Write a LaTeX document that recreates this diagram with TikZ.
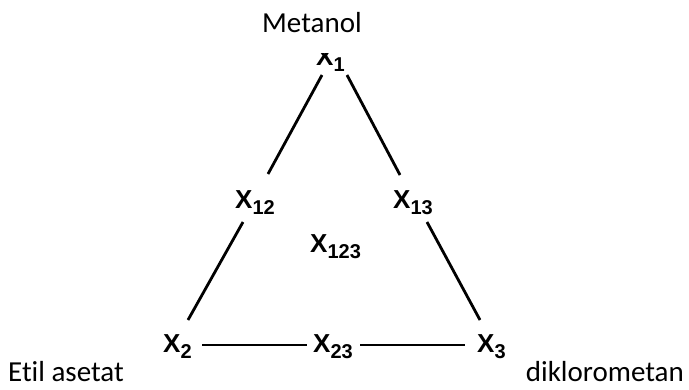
\documentclass[tikz,border=0pt]{standalone}
\usepackage{fontspec}
\setmainfont{Liberation Sans}
\newfontfamily\labfont[RawFeature=-liga]{Carlito}
\newcommand\xlab[1]{X\raisebox{-6pt}{\fontsize{20pt}{20pt}\selectfont #1}}
\tikzset{
  xnode/.style={inner sep=0pt, anchor=base west, font=\bfseries\fontsize{26pt}{26pt}\selectfont},
  compname/.style={inner sep=0pt, font=\labfont\fontsize{29pt}{29pt}\selectfont},
  edge/.style={line width=2.8pt, black}
}
\begin{document}
\begin{tikzpicture}[x=1pt,y=-1pt]
\useasboundingbox (0,0) rectangle (689,389);
\fill[white] (0,0) rectangle (689,389);
% component names
\node[compname, anchor=base west] (met) at (262,32) {Metanol};
\node[compname, anchor=base west] (etil) at (8,381) {Etil asetat};
\node[compname, anchor=base east] (dcm) at (684,381) {diklorometan};
% X labels
\begin{scope}
  \clip (0,53) rectangle (689,100);
  \node[xnode] (x1) at (316,65) {\xlab{1}};
\end{scope}
\node[xnode] (x12) at (235,208) {\xlab{12}};
\node[xnode] (x13) at (393,208) {\xlab{13}};
\node[xnode] (x123) at (310,252) {\xlab{123}};
\node[xnode] (x2) at (163,352) {\xlab{2}};
\node[xnode] (x23) at (313,352) {\xlab{23}};
\node[xnode] (x3) at (477,352) {\xlab{3}};
% line end points
\coordinate (a1) at (322,75);  \coordinate (a2) at (268,174);
\coordinate (b1) at (243,222); \coordinate (b2) at (188,320);
\coordinate (c1) at (347,75);  \coordinate (c2) at (400,175);
\coordinate (d1) at (427,222); \coordinate (d2) at (480,320);
\coordinate (e1) at (202,345); \coordinate (e2) at (307,345);
\coordinate (f1) at (360,345); \coordinate (f2) at (465,345);
\draw[edge] (a1) -- (a2);
\draw[edge] (b1) -- (b2);
\draw[edge] (c1) -- (c2);
\draw[edge] (d1) -- (d2);
\draw[edge] (e1) -- (e2);
\draw[edge] (f1) -- (f2);
\end{tikzpicture}
\end{document}
